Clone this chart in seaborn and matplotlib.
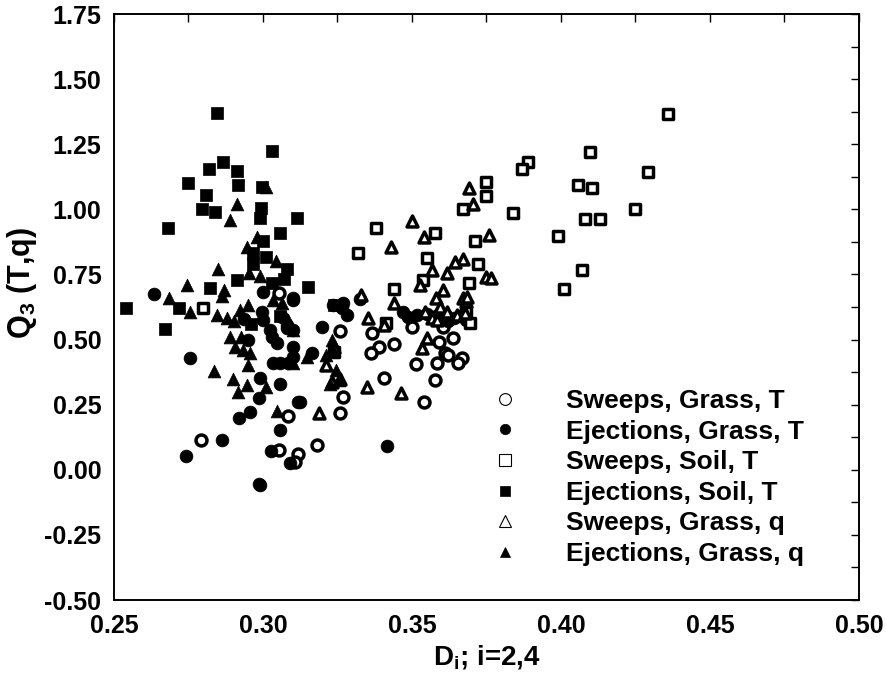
"""
Q3(T,q) vs Di scatter - sweeps / ejections over grass and soil
"""

import matplotlib
matplotlib.use("Agg")
import matplotlib.pyplot as plt
from matplotlib.lines import Line2D
from matplotlib.ticker import MultipleLocator, FormatStrFormatter
import seaborn as sns
import pandas as pd

# --- data ---
sg_t_x = [0.2792, 0.3054, 0.3084, 0.3054, 0.3117, 0.3107, 0.318, 0.3268, 0.326, 0.3258,
          0.3366, 0.339, 0.3362, 0.344, 0.350, 0.3406, 0.3513, 0.354, 0.3577, 0.3584,
          0.3604, 0.3638, 0.361, 0.362, 0.3668, 0.3654, 0.359]
sg_t_y = [0.114, 0.679, 0.206, 0.076, 0.060, 0.030, 0.095, 0.279, 0.218, 0.533,
          0.525, 0.471, 0.448, 0.483, 0.548, 0.352, 0.406, 0.260, 0.344, 0.410,
          0.548, 0.506, 0.448, 0.440, 0.429, 0.410, 0.490]

eg_t_x = [0.2634, 0.300, 0.2755, 0.2742, 0.2863, 0.2987, 0.2990, 0.292, 0.2957, 0.2987,
          0.299, 0.3057, 0.3117, 0.3057, 0.3027, 0.309, 0.2936, 0.2997, 0.300, 0.3023,
          0.303, 0.3047, 0.3034, 0.3057, 0.3084, 0.310, 0.310, 0.3064, 0.308, 0.295,
          0.3198, 0.3282, 0.3235, 0.3268, 0.3265, 0.3124, 0.3416, 0.3164, 0.310, 0.308,
          0.310, 0.3326, 0.310, 0.347, 0.3517, 0.3487, 0.355, 0.358, 0.361, 0.364,
          0.366, 0.362, 0.368]
eg_t_y = [0.675, 0.682, 0.429, 0.053, 0.114, -0.055, -0.060, 0.199, 0.222, 0.275,
          0.352, 0.329, 0.260, 0.153, 0.072, 0.026, 0.579, 0.606, 0.575, 0.536,
          0.510, 0.486, 0.410, 0.410, 0.410, 0.470, 0.652, 0.586, 0.556, 0.498,
          0.548, 0.594, 0.632, 0.640, 0.621, 0.260, 0.091, 0.448, 0.433, 0.544,
          0.536, 0.655, 0.660, 0.606, 0.594, 0.586, 0.600, 0.590, 0.600, 0.583,
          0.590, 0.570, 0.575]

ss_t_x = [0.436, 0.4292, 0.4097, 0.389, 0.387, 0.375, 0.3748, 0.4057, 0.4104, 0.425,
          0.384, 0.408, 0.413, 0.399, 0.367, 0.371, 0.372, 0.369, 0.407, 0.401,
          0.368, 0.3695, 0.338, 0.3577, 0.332, 0.355, 0.3537, 0.344, 0.3413, 0.324,
          0.280]
ss_t_y = [1.366, 1.143, 1.220, 1.180, 1.155, 1.105, 1.050, 1.093, 1.082, 1.001,
          0.986, 0.963, 0.963, 0.897, 1.000, 0.878, 0.790, 0.717, 0.767, 0.694,
          0.606, 0.563, 0.928, 0.909, 0.832, 0.813, 0.728, 0.694, 0.563, 0.452,
          0.621]

es_t_x = [0.2846, 0.303, 0.2866, 0.282, 0.2913, 0.2748, 0.2916, 0.2997, 0.2809, 0.2795,
          0.2839, 0.2993, 0.299, 0.3114, 0.2681, 0.3057, 0.300, 0.2967, 0.301, 0.2966,
          0.308, 0.307, 0.2913, 0.303, 0.2822, 0.254, 0.2718, 0.267, 0.3057, 0.296,
          0.315, 0.324]
es_t_y = [1.370, 1.224, 1.182, 1.155, 1.147, 1.101, 1.093, 1.086, 1.055, 1.000,
          0.990, 1.005, 0.967, 0.967, 0.928, 0.909, 0.878, 0.832, 0.817, 0.790,
          0.771, 0.732, 0.728, 0.717, 0.698, 0.623, 0.621, 0.540, 0.590, 0.560,
          0.700, 0.632]

sg_q_x = [0.369, 0.3705, 0.376, 0.367, 0.375, 0.3765, 0.368, 0.350, 0.354, 0.343,
          0.3644, 0.3567, 0.3617, 0.3527, 0.3604, 0.358, 0.367, 0.344, 0.333, 0.3352,
          0.3406, 0.3534, 0.355, 0.3685, 0.335, 0.3463, 0.3188, 0.3211, 0.324, 0.3232,
          0.3258, 0.3544, 0.3594, 0.3617, 0.365, 0.3678, 0.3567, 0.3584]
sg_q_y = [1.082, 1.020, 0.900, 0.810, 0.740, 0.736, 0.650, 0.955, 0.894, 0.855,
          0.798, 0.767, 0.755, 0.709, 0.690, 0.660, 0.660, 0.640, 0.670, 0.583,
          0.556, 0.467, 0.506, 0.663, 0.318, 0.295, 0.218, 0.402, 0.471, 0.337,
          0.350, 0.606, 0.625, 0.606, 0.594, 0.602, 0.583, 0.575]

eg_q_x = [0.301, 0.2913, 0.289, 0.298, 0.2946, 0.3044, 0.285, 0.2953, 0.299, 0.2745,
          0.287, 0.2862, 0.2685, 0.2755, 0.2846, 0.288, 0.2903, 0.2923, 0.295, 0.289,
          0.2926, 0.2906, 0.2933, 0.2956, 0.295, 0.2836, 0.290, 0.2946, 0.2916, 0.301,
          0.3047, 0.3034, 0.3064, 0.3084, 0.310, 0.310, 0.3232, 0.3235, 0.3211, 0.3245,
          0.3255, 0.3225, 0.3148]
eg_q_y = [1.086, 1.020, 0.959, 0.894, 0.855, 0.800, 0.771, 0.755, 0.744, 0.709,
          0.690, 0.667, 0.660, 0.606, 0.594, 0.583, 0.571, 0.613, 0.632, 0.510,
          0.510, 0.471, 0.460, 0.448, 0.402, 0.379, 0.348, 0.325, 0.298, 0.318,
          0.225, 0.652, 0.640, 0.575, 0.536, 0.410, 0.498, 0.460, 0.440, 0.383,
          0.345, 0.330, 0.433]

x_ticks = [0.25, 0.30, 0.35, 0.40, 0.45, 0.50]
y_ticks = [-0.50, -0.25, 0.00, 0.25, 0.50, 0.75, 1.00, 1.25, 1.50, 1.75]

# (label, x, y, marker, filled)
series = [
    ("Sweeps, Grass, T", sg_t_x, sg_t_y, "o", False),
    ("Ejections, Grass, T", eg_t_x, eg_t_y, "o", True),
    ("Sweeps, Soil, T", ss_t_x, ss_t_y, "s", False),
    ("Ejections, Soil, T", es_t_x, es_t_y, "s", True),
    ("Sweeps, Grass, q", sg_q_x, sg_q_y, "^", False),
    ("Ejections, Grass, q", eg_q_x, eg_q_y, "^", True),
]


def _setup_style():
    sns.set_theme(style="white")
    plt.rcParams.update({
        "font.family": ["Liberation Sans", "DejaVu Sans"],
        "font.weight": "bold",
        "axes.labelweight": "bold",
        "axes.edgecolor": "black",
        "axes.linewidth": 1.4,
        "xtick.color": "black",
        "ytick.color": "black",
        "text.color": "black",
        "axes.labelcolor": "black",
    })


def main():
    _setup_style()
    fig = plt.figure(figsize=(8.87, 6.77), dpi=100)
    ax = fig.add_axes([0.1285, 0.1137, 0.8399, 0.8656])

    handles = []
    for label, xs, ys, marker, filled in series:
        df = pd.DataFrame({"x": xs, "y": ys})
        if filled:
            sns.scatterplot(data=df, x="x", y="y", ax=ax, marker=marker, s=85,
                            color="black", edgecolor="black", linewidth=0.5, zorder=3)
            h = Line2D([], [], linestyle="none", marker=marker, markersize=7.5,
                       markerfacecolor="black", markeredgecolor="black", markeredgewidth=0.5)
        else:
            sns.scatterplot(data=df, x="x", y="y", ax=ax, marker=marker, s=62,
                            color="white", edgecolor="black", linewidth=2.5, zorder=3)
            h = Line2D([], [], linestyle="none", marker=marker, markersize=8.5,
                       markerfacecolor="white", markeredgecolor="black", markeredgewidth=0.8)
        handles.append((h, label))

    ax.set_xlim(0.25, 0.50)
    ax.set_ylim(-0.50, 1.75)
    ax.set_xticks(x_ticks)
    ax.set_yticks(y_ticks)
    ax.xaxis.set_minor_locator(MultipleLocator(0.025))
    ax.yaxis.set_minor_locator(MultipleLocator(0.125))
    ax.xaxis.set_major_formatter(FormatStrFormatter("%.2f"))
    ax.yaxis.set_major_formatter(FormatStrFormatter("%.2f"))
    ax.tick_params(which="both", direction="in", top=True, right=True,
                   length=6, width=1.0, colors="black")
    ax.tick_params(axis="x", which="major", labelsize=18, pad=10)
    ax.tick_params(axis="y", which="major", labelsize=18, pad=9)
    for lab in ax.get_xticklabels() + ax.get_yticklabels():
        lab.set_fontweight("bold")

    ax.set_xlabel(r"D$_\mathregular{i}$; i=2,4", fontsize=20, fontweight="bold", labelpad=4)
    ax.set_ylabel(r"Q$_\mathregular{3}$ (T,q)", fontsize=22, fontweight="bold")
    ax.yaxis.set_label_coords(-0.10, 0.54)

    ax.legend([h for h, _ in handles], [l for _, l in handles],
              loc="lower left", bbox_to_anchor=(0.507, 0.058), frameon=False,
              prop={"size": 19, "weight": "bold"}, handletextpad=1.8,
              labelspacing=0.25, borderpad=0, borderaxespad=0, handlelength=1.0)

    fig.savefig("out.png", dpi=100, facecolor="white")


if __name__ == "__main__":
    main()
